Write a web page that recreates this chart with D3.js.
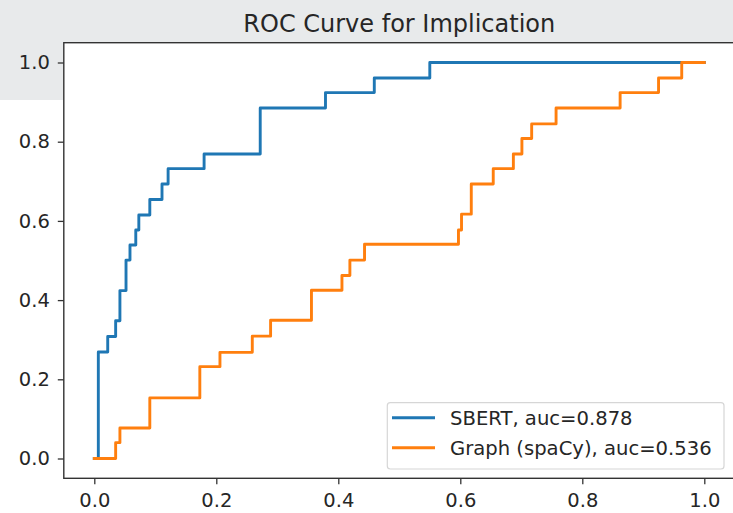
<!DOCTYPE html>
<html>
<head>
  <meta charset="utf-8">
  <title>ROC Curve for Implication</title>
  <script src="https://d3js.org/d3.v7.min.js"></script>
  <style>
    body { margin: 0; background: #fff; }
    text { font-family: "DejaVu Sans", sans-serif; fill: #262626; }
    .axis line { stroke: #333; stroke-width: 1.3; }
  </style>
</head>
<body>
  <div id="chart"></div>
  <script>
    // points where each ROC curve jumps up (fpr, new tpr)
    const sbertFpr = [0, 0.0066, 0.022, 0.035, 0.042, 0.052, 0.0585, 0.068, 0.073, 0.091, 0.111, 0.121, 0.180, 0.272, 0.379, 0.459, 0.550, 1.0];
    const sbertTpr = [0, 0.269, 0.308, 0.348, 0.424, 0.501, 0.539, 0.577, 0.615, 0.654, 0.693, 0.732, 0.769, 0.885, 0.924, 0.961, 1.0, 1.0];

    const graphFpr = [0, 0.035, 0.042, 0.091, 0.173, 0.206, 0.259, 0.289, 0.356, 0.406, 0.419, 0.443, 0.597, 0.602, 0.618, 0.654, 0.687, 0.701, 0.717, 0.757, 0.862, 0.925, 0.963, 1.0];
    const graphTpr = [0, 0.040, 0.077, 0.153, 0.232, 0.268, 0.309, 0.349, 0.425, 0.462, 0.501, 0.541, 0.577, 0.617, 0.693, 0.732, 0.769, 0.808, 0.845, 0.885, 0.924, 0.961, 1.0, 1.0];

    const seriesNames = ["SBERT, auc=0.878", "Graph (spaCy), auc=0.536"];
    const seriesColors = ["#1f77b4", "#ff7f0e"];
    const xTicks = [0, 0.2, 0.4, 0.6, 0.8, 1.0];
    const yTicks = [0, 0.2, 0.4, 0.6, 0.8, 1.0];

    const W = 733, H = 513;
    const ax = { left: 63.8, right: 734.8, top: 42.7, bottom: 478.3 };

    const svg = d3.select("#chart")
      .append("svg")
      .attr("width", W)
      .attr("height", H);

    // grey notebook band behind the top of the figure
    svg.append("rect")
      .attr("x", 0).attr("y", 0)
      .attr("width", W).attr("height", 100)
      .attr("fill", "#e8eaeb");

    const x = d3.scaleLinear().domain([-0.05, 1.05]).range([ax.left, ax.right]);
    const y = d3.scaleLinear().domain([-0.05, 1.05]).range([ax.bottom, ax.top]);

    svg.append("rect")
      .attr("x", ax.left).attr("y", ax.top)
      .attr("width", ax.right - ax.left).attr("height", ax.bottom - ax.top)
      .attr("fill", "#fff");

    svg.append("clipPath").attr("id", "clip")
      .append("rect")
      .attr("x", ax.left).attr("y", ax.top)
      .attr("width", ax.right - ax.left).attr("height", ax.bottom - ax.top);

    const line = d3.line()
      .x(d => x(d[0]))
      .y(d => y(d[1]))
      .curve(d3.curveStepAfter);

    const series = [
      d3.zip(sbertFpr, sbertTpr),
      d3.zip(graphFpr, graphTpr)
    ];

    svg.append("g")
      .attr("clip-path", "url(#clip)")
      .selectAll("path")
      .data(series)
      .enter()
      .append("path")
      .attr("d", line)
      .attr("fill", "none")
      .attr("stroke", (d, i) => seriesColors[i])
      .attr("stroke-width", 2.9)
      .attr("stroke-linejoin", "round")
      .attr("stroke-linecap", "square");

    // axes
    svg.append("g")
      .attr("class", "axis")
      .attr("transform", `translate(0,${ax.bottom})`)
      .call(d3.axisBottom(x).tickValues(xTicks).tickFormat(d3.format(".1f")).tickSize(6).tickPadding(8.5));

    svg.append("g")
      .attr("class", "axis")
      .attr("transform", `translate(${ax.left},0)`)
      .call(d3.axisLeft(y).tickValues(yTicks).tickFormat(d3.format(".1f")).tickSize(6).tickPadding(8));

    svg.selectAll(".axis .domain").remove();
    svg.selectAll(".axis text").attr("font-size", 19.5).attr("font-family", "DejaVu Sans").attr("fill", "#262626");

    // spines
    svg.append("rect")
      .attr("x", ax.left).attr("y", ax.top)
      .attr("width", ax.right - ax.left).attr("height", ax.bottom - ax.top)
      .attr("fill", "none")
      .attr("stroke", "#333")
      .attr("stroke-width", 1.4);

    // title
    svg.append("text")
      .attr("x", (ax.left + ax.right) / 2)
      .attr("y", 31.5)
      .attr("text-anchor", "middle")
      .attr("font-size", 24)
      .text("ROC Curve for Implication");

    // legend
    const leg = svg.append("g");
    leg.append("rect")
      .attr("x", 387.3).attr("y", 402.7)
      .attr("width", 336.7).attr("height", 66.3)
      .attr("rx", 3)
      .attr("fill", "#fff").attr("fill-opacity", 0.8)
      .attr("stroke", "#d6d6d6").attr("stroke-width", 1.2);

    const items = leg.selectAll(".item")
      .data(seriesNames)
      .enter()
      .append("g")
      .attr("transform", (d, i) => `translate(0,${417.7 + i * 30})`);

    items.append("line")
      .attr("x1", 392).attr("x2", 435)
      .attr("stroke", (d, i) => seriesColors[i])
      .attr("stroke-width", 2.9);

    items.append("text")
      .attr("x", 450)
      .attr("dy", "0.36em")
      .attr("font-size", 19.6)
      .text(d => d);
  </script>
</body>
</html>
